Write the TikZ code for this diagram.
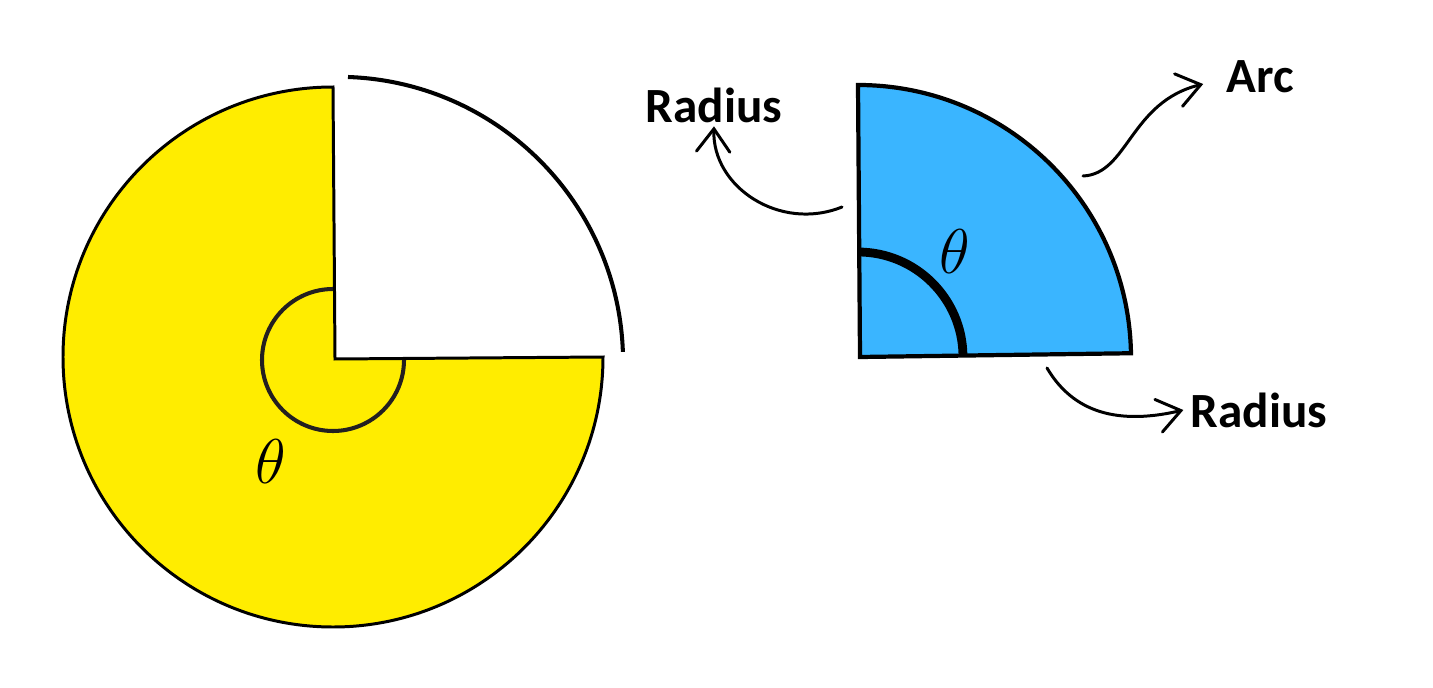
\RequirePackage{fix-cm}
\documentclass[tikz,border=0pt]{standalone}
\usepackage{fontspec}
\setsansfont{Carlito}
\usetikzlibrary{arrows.meta}

\definecolor{sectoryellow}{RGB}{255,237,0}
\definecolor{sectorblue}{RGB}{58,181,255}
\definecolor{markgray}{RGB}{35,31,32}

\begin{document}
\begin{tikzpicture}[
        x                 = 0.02cm,
        y                 = 0.02cm,
        outline/.style    = {draw=black, line width=1.7pt, line join=miter},
        anglemark/.style  = {draw=markgray, line width=2.3pt},
        labeltext/.style  = {font=\sffamily\bfseries\fontsize{28}{30}\selectfont, inner sep=4pt},
        thetatext/.style  = {font=\fontsize{36}{36}\selectfont, inner sep=0pt},
        pointer/.style    = {draw, line width=1.7pt, line cap=round,
                             -{Straight Barb[length=13pt, width=19pt, line cap=round]}},
      ]
    \useasboundingbox (0,0) rectangle (1433,687);

    % three quarter sector (left)
    \filldraw[outline, fill=sectoryellow]
        (333,600) arc[start angle=90, end angle=360, radius=270] -- (335,328) -- cycle;
    \draw[line width=2.3pt] (348,610) arc[start angle=88, end angle=2, radius=285];
    \draw[anglemark] (333,398) arc[start angle=90, end angle=360, radius=71];
    \node[thetatext] (thetaY) at (271,225) {$\theta$};

    % quarter sector (right)
    \filldraw[outline, line width=2.4pt, fill=sectorblue]
        (858,602) arc[start angle=90, end angle=1, radius=273] -- (860,330) -- cycle;
    \draw[line width=5pt] (858,435) arc[start angle=90, end angle=1, radius=105];
    \node[thetatext] (thetaB) at (955,435) {$\theta$};

    % labels
    \node[labeltext] (radiusL) at (714,582) {Radius};
    \node[labeltext] (arcL)    at (1260,610) {Arc};
    \node[labeltext] (radiusB) at (1259,277) {Radius};

    \coordinate (fromR1) at (842,480);
    \coordinate (fromA)  at (1083,511);
    \coordinate (fromR2) at (1047,319);

    \draw[pointer] (fromR1) .. controls (780,455) and (712,500) .. ([yshift=2pt]radiusL.south);
    \draw[pointer] (fromA) .. controls (1128,513) and (1130,585) .. ([xshift=-9pt,yshift=-4pt]arcL.west);
    \draw[pointer] (fromR2) .. controls (1070,280) and (1110,260) .. (radiusB.west);
\end{tikzpicture}
\end{document}
